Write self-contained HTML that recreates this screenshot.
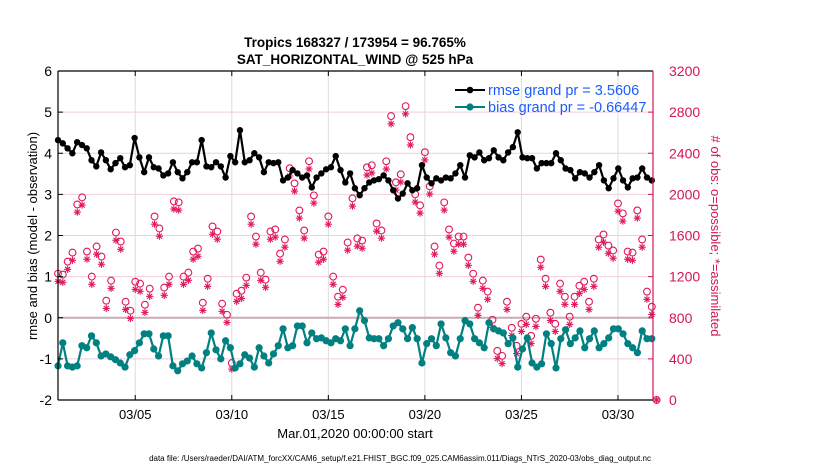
<!DOCTYPE html>
<html><head><meta charset="utf-8"><style>
html,body{margin:0;padding:0;background:#fff;}
svg{display:block;font-family:"Liberation Sans",sans-serif;}
</style></head><body>
<svg id="chart" width="830" height="470" viewBox="0 0 830 470">
<text x="355" y="47" text-anchor="middle" font-size="13.5" font-weight="bold">Tropics 168327 / 173954 = 96.765%</text>
<text x="355" y="64" text-anchor="middle" font-size="13.5" font-weight="bold">SAT_HORIZONTAL_WIND @ 525 hPa</text>
<g id="grid"></g>
<g id="obs"></g>
<g id="lines"></g>
<g id="axes"></g>
<text x="355" y="438" text-anchor="middle" font-size="13">Mar.01,2020 00:00:00 start</text>
<text transform="translate(37,236) rotate(-90)" text-anchor="middle" font-size="13">rmse and bias (model - observation)</text>
<text transform="translate(711,236) rotate(90)" text-anchor="middle" font-size="13" fill="#d4145a"># of obs: o=possible; *=assimilated</text>
<text x="400" y="461" text-anchor="middle" font-size="8">data file: /Users/raeder/DAI/ATM_forcXX/CAM6_setup/f.e21.FHIST_BGC.f09_025.CAM6assim.011/Diags_NTrS_2020-03/obs_diag_output.nc</text>
<g>
<line x1="455" y1="90" x2="485" y2="90" stroke="#000" stroke-width="2"/>
<circle cx="470" cy="90" r="3.3" fill="#000"/>
<text x="488" y="95" font-size="14.5" fill="#1a5cff">rmse grand pr = 3.5606</text>
<line x1="455" y1="107" x2="485" y2="107" stroke="#008080" stroke-width="2"/>
<circle cx="470" cy="107" r="3.6" fill="#008080"/>
<text x="488" y="112" font-size="14.5" fill="#1a5cff">bias grand pr = -0.66447</text>
</g>
</svg>
<script>
const xTickLabels = ["03/05","03/10","03/15","03/20","03/25","03/30"];
const xTickDays = [4,9,14,19,24,29];
const leftTicks = [-2,-1,0,1,2,3,4,5,6];
const rightTicks = [0,400,800,1200,1600,2000,2400,2800,3200];
const rmse = [4.32,4.24,4.12,4.0,4.27,4.2,4.12,3.83,3.68,4.02,3.83,3.61,3.76,3.88,3.66,3.71,4.37,3.9,3.54,3.9,3.66,3.63,3.46,
3.51,3.78,3.54,3.39,3.54,3.78,3.78,4.32,3.68,3.66,3.78,3.68,3.41,3.93,3.78,4.56,3.78,3.83,4.0,3.9,3.54,3.78,3.76,
3.78,3.34,3.41,3.59,3.51,3.41,3.46,3.17,3.41,3.51,3.61,3.66,3.93,3.59,3.29,3.51,3.15,2.98,3.15,3.29,3.34,3.37,
3.46,3.34,3.1,2.9,3.02,3.27,3.1,3.15,3.71,3.41,3.27,3.39,3.34,3.41,3.39,3.51,3.71,3.41,3.95,
3.9,4.02,3.83,3.88,4.07,3.9,3.83,4.02,4.15,4.51,3.9,3.88,3.88,3.63,3.76,3.76,3.76,4.0,3.83,3.63,3.59,3.39,3.54,
3.51,3.41,3.54,3.71,3.34,3.15,3.39,3.63,3.34,3.17,3.39,3.41,3.63,3.41,3.34];
const bias = [-1.17,-0.61,-1.17,-1.2,-1.17,-0.68,-0.73,-0.44,-0.61,-0.93,-0.88,-0.95,-1.02,-1.1,-1.2,-0.9,-0.8,-0.61,-0.39,-0.39,-0.76,-0.93,-0.44,
-0.44,-1.17,-1.29,-1.12,-1.05,-0.93,-1.12,-1.22,-0.85,-0.37,-0.78,-1.0,-0.56,-0.73,-1.22,-1.12,-0.9,-0.98,-1.2,-0.73,-0.93,-1.1,-0.88,
-0.68,-0.27,-0.73,-0.68,-0.2,-0.2,-0.61,-0.37,-0.51,-0.49,-0.56,-0.61,-0.51,-0.56,-0.27,-0.68,-0.27,0.17,-0.07,-0.49,-0.51,-0.51,
-0.68,-0.51,-0.2,-0.12,-0.27,-0.51,-0.24,-0.51,-1.1,-0.63,-0.51,-0.68,-0.15,-0.49,-0.85,-0.93,-0.51,-0.07,-0.15,
-0.51,-0.61,-0.73,-0.12,-0.27,-0.32,-0.37,-0.63,-0.49,-1.2,-0.76,-0.49,-1.1,-1.2,-1.12,-0.39,-0.63,-1.22,-0.51,-0.29,-0.63,-0.49,-0.32,
-0.73,-0.51,-0.32,-0.73,-0.63,-0.49,-0.27,-0.27,-0.39,-0.63,-0.73,-0.85,-0.32,-0.51,-0.51];
const obsPossible = [1229,1220,1346,1434,1902,1971,1444,1200,1493,1395,966,1161,1629,1541,956,868,1151,1132,927,1083,1785,1668,1093,
1200,1932,1922,1200,1239,1444,1473,946,1180,1688,1639,937,829,
360,
1034,1063,1190,1785,1590,1239,1171,1639,
1659,1424,1561,2254,2107,1844,1649,2322,1990,1415,1444,1785,1200,1005,1073,1532,1961,1571,1551,2263,2283,1717,
1649,2322,2761,2117,2195,2858,2556,2000,1893,2410,2078,1493,1307,1922,1659,1522,1590,1590,1385,1229,898,
1161,1054,780,
478,429,956,702,527,741,810,624,790,1366,1180,849,741,1132,1005,810,1005,1112,1151,
956,1180,1561,1610,1502,1454,1912,1815,1444,1434,1844,1561,1054,907,
0];
const obsAssim = [1154,1145,1271,1359,1827,1896,1369,1125,1418,1320,891,1086,1554,1466,881,793,1076,1057,852,1008,1710,1593,1018,
1125,1857,1847,1125,1164,1369,1398,871,1105,1613,1564,862,754,
300,
959,988,1115,1710,1515,1164,1096,1564,
1584,1349,1486,2179,2032,1769,1574,2247,1915,1340,1369,1710,1125,930,998,1457,1886,1496,1476,2188,2208,1642,
1574,2247,2686,2042,2120,2783,2481,1925,1818,2335,2003,1418,1232,1847,1584,1447,1515,1515,1310,1154,823,
1086,979,705,
403,354,881,627,452,666,735,549,715,1291,1105,774,666,1057,930,735,930,1037,1076,
881,1105,1486,1535,1427,1379,1837,1740,1369,1359,1769,1486,979,832,
0];

const NS="http://www.w3.org/2000/svg";
const L=58,R=653,T=71,B=400;
const xDay=d=>L+d*19.31;
const yL=v=>T+(6-v)*(B-T)/8;
const yR=v=>B-v*(B-T)/3200;
function mk(tag,attrs,parent){const e=document.createElementNS(NS,tag);for(const k in attrs)e.setAttribute(k,attrs[k]);parent.appendChild(e);return e;}
const grid=document.getElementById('grid'),axes=document.getElementById('axes'),obs=document.getElementById('obs'),lines=document.getElementById('lines');

leftTicks.forEach(v=>{
  if(v>-2&&v<6&&v!==0){const g=mk('line',{x1:L,x2:R,y1:yL(v),y2:yL(v),stroke:'#f2cfdc','stroke-width':1},grid);
  
  }
  mk('line',{x1:L,x2:L+5,y1:yL(v),y2:yL(v),stroke:'#000'},axes);
  const t=mk('text',{x:L-6,y:yL(v)+5,'text-anchor':'end','font-size':14},axes);t.textContent=v;
  
  
});
xTickDays.forEach((d,i)=>{
  const g=mk('line',{x1:xDay(d),x2:xDay(d),y1:T,y2:B,stroke:'#dcdcdc','stroke-width':1},grid);
  
  
  mk('line',{x1:xDay(d),x2:xDay(d),y1:B,y2:B-5,stroke:'#000'},axes);
  mk('line',{x1:xDay(d),x2:xDay(d),y1:T,y2:T+5,stroke:'#000'},axes);
  const t=mk('text',{x:xDay(d),y:B+19,'text-anchor':'middle','font-size':13},axes);t.textContent=xTickLabels[i];
  
  
});
const zl=mk('line',{x1:L,x2:R,y1:yL(0),y2:yL(0),stroke:'#c9a9b2','stroke-width':2},grid);


rightTicks.forEach(v=>{
  mk('line',{x1:R,x2:R-5,y1:yR(v),y2:yR(v),stroke:'#d4145a'},axes);
  const t=mk('text',{x:R+16,y:yR(v)+5,'font-size':14,fill:'#d4145a'},axes);t.textContent=v;
  
  
});
mk('line',{x1:L,x2:L,y1:T,y2:B,stroke:'#000','stroke-width':1.2},axes);
mk('line',{x1:L,x2:R,y1:B,y2:B,stroke:'#000','stroke-width':1.2},axes);
mk('line',{x1:L,x2:R,y1:T,y2:T,stroke:'#000','stroke-width':1.2},axes);
mk('line',{x1:R,x2:R,y1:T,y2:B,stroke:'#d4145a','stroke-width':1.2},axes);

const MC='#e0185c';
obsPossible.forEach((v,i)=>{
  const x=xDay(i*0.25),y=yR(v);
  const c=mk('circle',{cx:x,cy:y,r:3.4,fill:'none',stroke:MC,'stroke-width':1.1},obs);
  
  
});
obsAssim.forEach((v,i)=>{
  const x=xDay(i*0.25),y=yR(v),s=3.6;
  const g=mk('g',{stroke:MC,'stroke-width':1.1},obs);
  
  
  mk('line',{x1:x,x2:x,y1:y-s,y2:y+s},g);
  mk('line',{x1:x-s,x2:x+s,y1:y,y2:y},g);
  mk('line',{x1:x-s*0.7,x2:x+s*0.7,y1:y-s*0.7,y2:y+s*0.7},g);
  mk('line',{x1:x-s*0.7,x2:x+s*0.7,y1:y+s*0.7,y2:y-s*0.7},g);
});
function series(arr,color,r,name){
  const n=arr.length,step=30.75/(n-1);
  const pts=arr.map((v,i)=>xDay(i*step).toFixed(1)+','+yL(v).toFixed(1)).join(' ');
  const p=mk('polyline',{points:pts,fill:'none',stroke:color,'stroke-width':2.2,'stroke-linejoin':'round'},lines);
  
  
  arr.forEach((v,i)=>{
    const c=mk('circle',{cx:xDay(i*step),cy:yL(v),r:r,fill:color},lines);
    
    
  });
}
series(rmse,'#000',3.2,'rmse');
series(bias,'#008080',3.6,'bias');
</script>
</body></html>
